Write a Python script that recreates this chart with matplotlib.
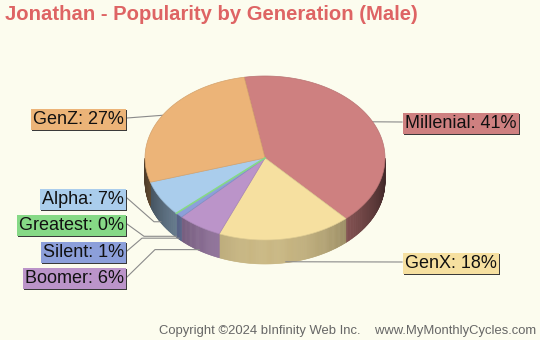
import numpy as np
import matplotlib.pyplot as plt
import matplotlib.colors as mcolors

plt.rcParams['font.family'] = ['Liberation Sans', 'DejaVu Sans']

# Generation shares (percent), clockwise from the top
generations = ['Millenial', 'GenX', 'Boomer', 'Silent', 'Greatest', 'Alpha', 'GenZ']
shares = [41, 18, 6, 1, 0, 7, 27]
colors = ['#CE8080', '#F6E0A0', '#BB94C9', '#8C9FDA', '#86D986', '#AACDEC', '#ECB478']

# label box placement (pixel coords), side and leader elbow x
label_pos = {
    'Millenial': (402, 122, 'left', None),
    'GenX': (402, 262, 'left', None),
    'Boomer': (127, 277, 'right', 155),
    'Silent': (127, 251, 'right', 142),
    'Greatest': (127, 224, 'right', 144),
    'Alpha': (127, 198, 'right', 154),
    'GenZ': (127, 118, 'right', None),
}

W, H = 540, 340
bg = '#FCFCEE'
cx, cy, rx, ry, depth = 265, 158, 120, 82, 24
start = 100.0

fig = plt.figure(figsize=(W / 100, H / 100), dpi=100, facecolor=bg)
ax = fig.add_axes([0, 0, 1, 1])
ax.set_xlim(0, W)
ax.set_ylim(H, 0)
ax.axis('off')
ax.set_facecolor(bg)


def pt(deg, dz=0):
    a = np.radians(deg)
    return cx + rx * np.cos(a), cy - ry * np.sin(a) + dz


# slice angle ranges (clockwise)
bounds = []
a0 = start
for s in shares:
    a1 = a0 - s * 3.6
    bounds.append((a0, a1))
    a0 = a1

# side wall, only the front half is visible
for (a0, a1), col in zip(bounds, colors):
    lo, hi = max(a1, -180), min(a0, 0)
    if a0 <= -180:
        lo, hi = max(a1 + 360, -180), min(a0 + 360, 0)
    if hi <= lo:
        continue
    base = np.array(mcolors.to_rgb(col))
    angs = np.linspace(lo, hi, max(int((hi - lo) * 2), 2))
    for b0, b1 in zip(angs[:-1], angs[1:]):
        m = np.radians((b0 + b1) / 2)
        f = 0.32 + 0.5 * (-np.sin(m)) ** 1.5
        c = np.clip(base * f, 0, 1)
        p0, p1 = pt(b0), pt(b1)
        q1, q0 = pt(b1, depth), pt(b0, depth)
        ax.fill([p0[0], p1[0], q1[0], q0[0]], [p0[1], p1[1], q1[1], q0[1]],
                color=c, lw=0.4, ec=c)

# top face
for (a0, a1), col, s in zip(bounds, colors, shares):
    if s == 0:
        x, y = pt(a0)
        ax.plot([cx, x], [cy, y], color=col, lw=1.2, zorder=3)
        continue
    angs = np.linspace(a0, a1, 120)
    xs = [cx] + [pt(a)[0] for a in angs]
    ys = [cy] + [pt(a)[1] for a in angs]
    ax.fill(xs, ys, color=col, ec=mcolors.to_hex(np.array(mcolors.to_rgb(col)) * 0.9),
            lw=0.5, zorder=2)

# labels with leader lines
for name, (a0, a1), col, s in zip(generations, bounds, colors, shares):
    mid = (a0 + a1) / 2
    ax_, ay_ = pt(mid)
    if np.sin(np.radians(mid)) < -0.3:
        ay_ += depth - 1
    lx, ly, side, elbow = label_pos[name]
    if side == 'left':
        ax.plot([ax_, lx], [ay_, ly], color='#8A8A8A', lw=0.8, zorder=1)
    else:
        if elbow is None:
            ax.plot([lx, ax_], [ly, ay_], color='#8A8A8A', lw=0.8, zorder=1)
        else:
            ax.plot([lx, elbow, ax_], [ly, ay_, ay_], color='#8A8A8A', lw=0.8, zorder=1)
    text = f'{name}: {s}%'
    tx = lx + 3 if side == 'left' else lx - 3
    ty = ly + 1.5
    # drop shadow
    ax.text(tx + 1, ty + 1, text, ha=side, va='center', fontsize=13, color=(0, 0, 0, 0),
            bbox=dict(boxstyle='square,pad=0.12', fc='#3A3A3A', ec='none'), zorder=4)
    ax.text(tx, ty, text, ha=side, va='center', fontsize=13, color='#111111',
            bbox=dict(boxstyle='square,pad=0.12', fc=col, ec='none'), zorder=5)

ax.text(5, 15, 'Jonathan - Popularity by Generation (Male)', fontsize=14.6, fontweight='bold',
        color='#DE6464', ha='left', va='center')
ax.text(536, 331, 'Copyright \u00a92024 bInfinity Web Inc.    www.MyMonthlyCycles.com',
        fontsize=9.4, color='#666666', ha='right', va='center')

fig.savefig('out.png', dpi=100, facecolor=bg)
